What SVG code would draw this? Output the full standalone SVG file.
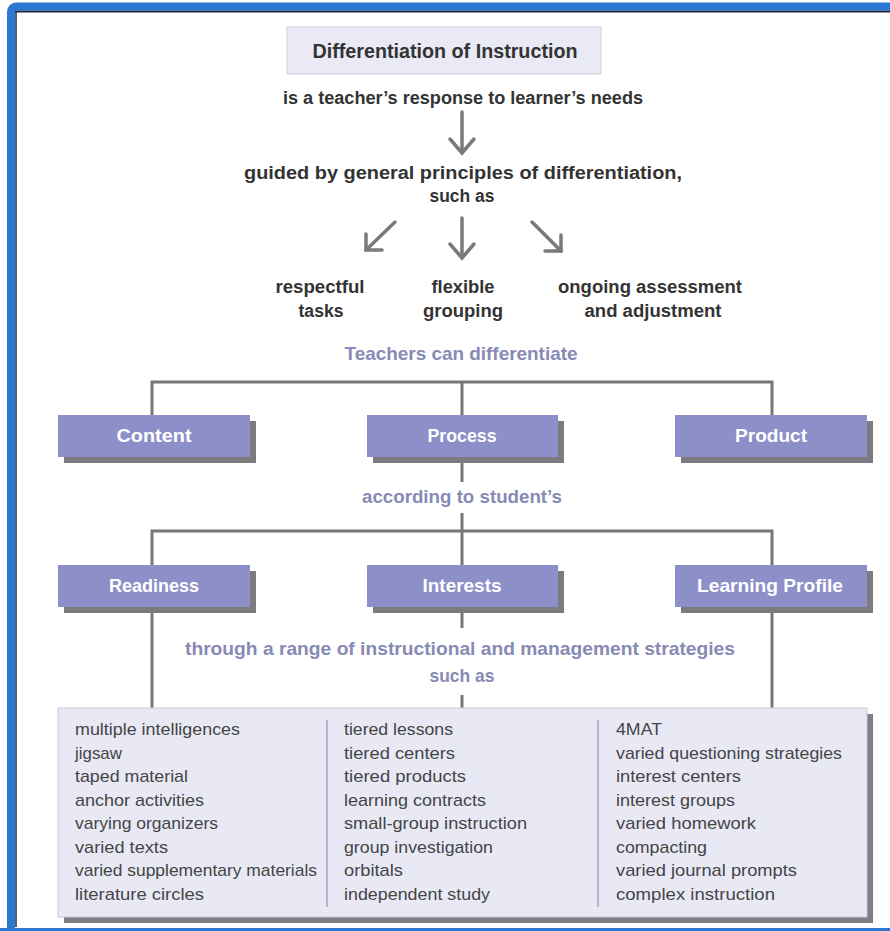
<svg xmlns="http://www.w3.org/2000/svg" width="890" height="931" viewBox="0 0 890 931">
<defs>
<style>
text{lengthAdjust:spacingAndGlyphs}
.hdr{font-family:"Liberation Sans",Arial,sans-serif;font-weight:bold;fill:#333;text-anchor:middle;font-size:17.5px}
.ttl{font-family:"Liberation Sans",Arial,sans-serif;font-weight:bold;fill:#333;text-anchor:middle;font-size:19.5px}
.lav{font-family:"Liberation Sans",Arial,sans-serif;font-weight:bold;fill:#878ab5;text-anchor:middle;font-size:18.5px}
.btxt{font-family:"Liberation Sans",Arial,sans-serif;font-weight:bold;fill:#fff;text-anchor:middle;font-size:18.5px}
.item{font-family:"Liberation Sans",Arial,sans-serif;fill:#454545;font-size:17px}
.conn{stroke:#777;stroke-width:3;fill:none}
.arr{stroke:#7a7a7a;stroke-width:3.5;fill:none;stroke-linecap:round}
.box{fill:#8d8fc9}
.shadow{fill:#7b7b80}
.sep{stroke:#b4b6cc;stroke-width:2}
</style>
</defs>
<rect x="0" y="0" width="890" height="931" fill="#fff"/>
<!-- frame -->
<rect x="11" y="6.5" width="900" height="940" rx="5" fill="none" stroke="#2b78d4" stroke-width="8"/>
<line x1="15" y1="11.5" x2="890" y2="11.5" stroke="#1a2a40" stroke-width="2"/>
<line x1="16" y1="11" x2="16" y2="927" stroke="#1a2a40" stroke-width="1.5"/>
<line x1="0" y1="929.5" x2="890" y2="929.5" stroke="#2b78d4" stroke-width="3"/>

<g id="title">
<rect x="287" y="27" width="314" height="47" fill="#e9eaf5" stroke="#cfd0dc" stroke-width="1"/>
<text class="ttl" x="445" y="58" textLength="265" lengthAdjust="spacingAndGlyphs">Differentiation of Instruction</text>
</g>
<g id="response"><text class="hdr" x="463" y="104" textLength="360" lengthAdjust="spacingAndGlyphs">is a teacher’s response to learner’s needs</text></g>
<g id="guided">
<text class="hdr" x="463" y="179" textLength="438" lengthAdjust="spacingAndGlyphs">guided by general principles of differentiation,</text>
<text class="hdr" x="462" y="202" textLength="65" lengthAdjust="spacingAndGlyphs">such as</text>
</g>
<g id="respectful"><text class="hdr" x="320" y="293" textLength="89" lengthAdjust="spacingAndGlyphs">respectful</text><text class="hdr" x="321" y="317" textLength="45" lengthAdjust="spacingAndGlyphs">tasks</text></g>
<g id="flexible"><text class="hdr" x="463" y="293" textLength="63" lengthAdjust="spacingAndGlyphs">flexible</text><text class="hdr" x="463" y="317" textLength="80" lengthAdjust="spacingAndGlyphs">grouping</text></g>
<g id="ongoing"><text class="hdr" x="650" y="293" textLength="184" lengthAdjust="spacingAndGlyphs">ongoing assessment</text><text class="hdr" x="653" y="317" textLength="137" lengthAdjust="spacingAndGlyphs">and adjustment</text></g>
<g id="teachers"><text class="lav" x="461" y="360" textLength="233" lengthAdjust="spacingAndGlyphs">Teachers can differentiate</text></g>

<g id="connectors">
<line class="arr" x1="462" y1="112" x2="462" y2="152"/>
<polyline class="arr" points="450,139 462,153 474,139"/>
<line class="arr" x1="395" y1="222" x2="366" y2="250"/>
<polyline class="arr" points="366,234 366,250 382,250"/>
<line class="arr" x1="462" y1="218" x2="462" y2="257"/>
<polyline class="arr" points="450,244 462,258 474,244"/>
<line class="arr" x1="532" y1="222" x2="561" y2="251"/>
<polyline class="arr" points="545,251 561,251 561,235"/>
<polyline class="conn" points="152,415 152,382 772,382 772,415"/>
<line class="conn" x1="462" y1="382" x2="462" y2="415"/>
<line class="conn" x1="462" y1="463" x2="462" y2="482"/>
<line class="conn" x1="462" y1="513" x2="462" y2="565"/>
<polyline class="conn" points="152,565 152,531 772,531 772,565"/>
<line class="conn" x1="152" y1="613" x2="152" y2="708"/>
<line class="conn" x1="462" y1="613" x2="462" y2="628"/>
<line class="conn" x1="772" y1="613" x2="772" y2="708"/>
<line class="conn" x1="462" y1="695" x2="462" y2="708"/>
</g>

<g id="content"><rect class="shadow" x="64" y="421" width="192" height="42"/><rect class="box" x="58" y="415" width="192" height="42"/><text class="btxt" x="154" y="442" textLength="75" lengthAdjust="spacingAndGlyphs">Content</text></g>
<g id="process"><rect class="shadow" x="373" y="421" width="191" height="42"/><rect class="box" x="367" y="415" width="191" height="42"/><text class="btxt" x="462" y="442" textLength="69" lengthAdjust="spacingAndGlyphs">Process</text></g>
<g id="product"><rect class="shadow" x="681" y="421" width="192" height="42"/><rect class="box" x="675" y="415" width="192" height="42"/><text class="btxt" x="771" y="442" textLength="72" lengthAdjust="spacingAndGlyphs">Product</text></g>
<g id="according"><text class="lav" x="462" y="503" textLength="200" lengthAdjust="spacingAndGlyphs">according to student’s</text></g>
<g id="readiness"><rect class="shadow" x="64" y="571" width="192" height="42"/><rect class="box" x="58" y="565" width="192" height="42"/><text class="btxt" x="154" y="592" textLength="90" lengthAdjust="spacingAndGlyphs">Readiness</text></g>
<g id="interests"><rect class="shadow" x="373" y="571" width="191" height="42"/><rect class="box" x="367" y="565" width="191" height="42"/><text class="btxt" x="462" y="592" textLength="79" lengthAdjust="spacingAndGlyphs">Interests</text></g>
<g id="learning"><rect class="shadow" x="681" y="571" width="192" height="42"/><rect class="box" x="675" y="565" width="192" height="42"/><text class="btxt" x="770" y="592" textLength="146" lengthAdjust="spacingAndGlyphs">Learning Profile</text></g>
<g id="through"><text class="lav" x="460" y="655" textLength="550" lengthAdjust="spacingAndGlyphs">through a range of instructional and management strategies</text><text class="lav" x="462" y="682" textLength="65" lengthAdjust="spacingAndGlyphs">such as</text></g>

<g id="strategies">
<rect x="64" y="714" width="809" height="209" fill="#7e7e84"/>
<rect x="58" y="708" width="809" height="209" fill="#e8e9f5" stroke="#c8c9d6" stroke-width="1"/>
<line class="sep" x1="327" y1="720" x2="327" y2="907"/>
<line class="sep" x1="598" y1="720" x2="598" y2="907"/>
<g class="item">
<text x="75" y="735" textLength="165" lengthAdjust="spacingAndGlyphs">multiple intelligences</text>
<text x="75" y="758.5" textLength="47" lengthAdjust="spacingAndGlyphs">jigsaw</text>
<text x="75" y="782" textLength="113" lengthAdjust="spacingAndGlyphs">taped material</text>
<text x="75" y="805.5" textLength="129" lengthAdjust="spacingAndGlyphs">anchor activities</text>
<text x="75" y="829" textLength="143" lengthAdjust="spacingAndGlyphs">varying organizers</text>
<text x="75" y="852.5" textLength="93" lengthAdjust="spacingAndGlyphs">varied texts</text>
<text x="75" y="876" textLength="242" lengthAdjust="spacingAndGlyphs">varied supplementary materials</text>
<text x="75" y="899.5" textLength="129" lengthAdjust="spacingAndGlyphs">literature circles</text>
<text x="344" y="735" textLength="109" lengthAdjust="spacingAndGlyphs">tiered lessons</text>
<text x="344" y="758.5" textLength="111" lengthAdjust="spacingAndGlyphs">tiered centers</text>
<text x="344" y="782" textLength="122" lengthAdjust="spacingAndGlyphs">tiered products</text>
<text x="344" y="805.5" textLength="142" lengthAdjust="spacingAndGlyphs">learning contracts</text>
<text x="344" y="829" textLength="183" lengthAdjust="spacingAndGlyphs">small-group instruction</text>
<text x="344" y="852.5" textLength="149" lengthAdjust="spacingAndGlyphs">group investigation</text>
<text x="344" y="876" textLength="59" lengthAdjust="spacingAndGlyphs">orbitals</text>
<text x="344" y="899.5" textLength="146" lengthAdjust="spacingAndGlyphs">independent study</text>
<text x="616" y="735" textLength="46" lengthAdjust="spacingAndGlyphs">4MAT</text>
<text x="616" y="758.5" textLength="226" lengthAdjust="spacingAndGlyphs">varied questioning strategies</text>
<text x="616" y="782" textLength="125" lengthAdjust="spacingAndGlyphs">interest centers</text>
<text x="616" y="805.5" textLength="119" lengthAdjust="spacingAndGlyphs">interest groups</text>
<text x="616" y="829" textLength="140" lengthAdjust="spacingAndGlyphs">varied homework</text>
<text x="616" y="852.5" textLength="91" lengthAdjust="spacingAndGlyphs">compacting</text>
<text x="616" y="876" textLength="181" lengthAdjust="spacingAndGlyphs">varied journal prompts</text>
<text x="616" y="899.5" textLength="159" lengthAdjust="spacingAndGlyphs">complex instruction</text>
</g>
</g>
</svg>
